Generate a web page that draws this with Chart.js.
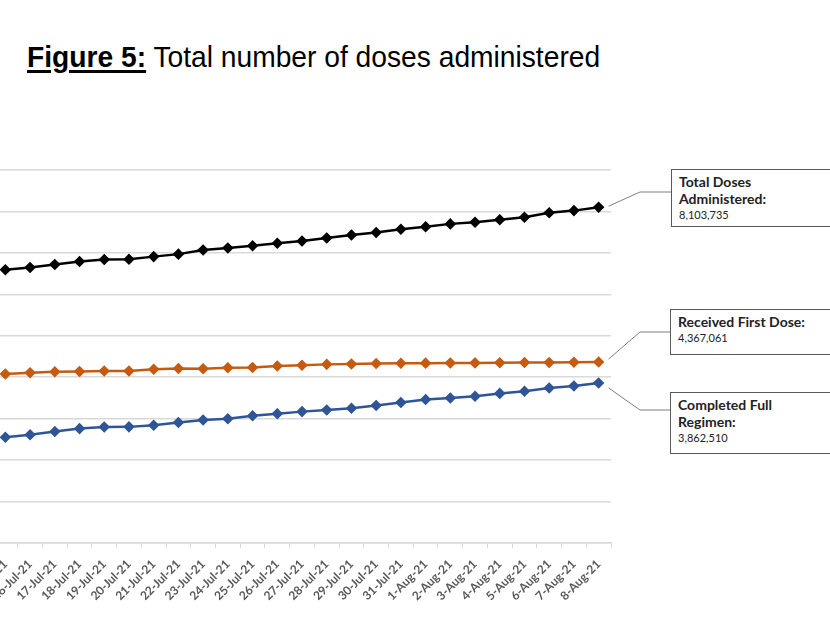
<!DOCTYPE html>
<html lang="en">
<head>
<meta charset="UTF-8">
<title>Figure 5: Total number of doses administered</title>
<script src="https://cdn.jsdelivr.net/npm/chart.js@4"></script>
<style>
  html, body { margin: 0; padding: 0; background: #fff; overflow: hidden; }
  body { width: 830px; height: 622px; position: relative; }
  .title { position: absolute; left: 27px; top: 40px; font-family: 'Liberation Sans', Arial, sans-serif;
           font-size: 30px; color: #000; white-space: nowrap; transform-origin: 0 0; transform: scaleX(0.94); }
  .title b { text-decoration: underline; text-underline-offset: 3px; }
  .wrap { position: absolute; left: -20px; top: 0; width: 850px; height: 622px; }
  .box { position: absolute; border: 1px solid #595959; background: #fff; width: 170px;
         font-family: Lato, 'Open Sans', sans-serif; color: #222; padding: 3px 7px; box-sizing: border-box; }
  .box .lab { font-weight: 700; font-size: 14px; line-height: 17px; }
  .box .num { font-size: 11px; line-height: 15px; }
</style>
</head>
<body>
<div class="title"><b>Figure 5:</b> Total number of doses administered</div>
<div class="wrap"><canvas id="dosesChart"></canvas></div>
<div class="box" style="left:671px;top:169px;height:58px;"><div class="lab">Total Doses<br>Administered:</div><div class="num">8,103,735</div></div>
<div class="box" style="left:670px;top:309px;height:46px;"><div class="lab">Received First Dose:</div><div class="num">4,367,061</div></div>
<div class="box" style="left:670px;top:392px;height:62px;"><div class="lab">Completed Full<br>Regimen:</div><div class="num">3,862,510</div></div>
<script>
// dates shown on the x axis
const dates = ['15-Jul-21','16-Jul-21','17-Jul-21','18-Jul-21','19-Jul-21','20-Jul-21','21-Jul-21',
  '22-Jul-21','23-Jul-21','24-Jul-21','25-Jul-21','26-Jul-21','27-Jul-21','28-Jul-21','29-Jul-21',
  '30-Jul-21','31-Jul-21','1-Aug-21','2-Aug-21','3-Aug-21','4-Aug-21','5-Aug-21','6-Aug-21',
  '7-Aug-21','8-Aug-21'];

// doses (last values from the call-out boxes)
const totalDoses = [6595000,6650000,6720000,6790000,6840000,6845000,6910000,6970000,7070000,7120000,
  7170000,7230000,7285000,7360000,7430000,7490000,7570000,7630000,7700000,7740000,7800000,7860000,
  7970000,8020000,8103735];
const firstDose = [4080000,4110000,4130000,4140000,4150000,4152000,4190000,4210000,4205000,4230000,
  4235000,4270000,4290000,4310000,4320000,4330000,4335000,4340000,4343000,4346000,4350000,4353000,
  4356000,4362000,4367061];
const fullRegimen = [2550000,2610000,2690000,2760000,2800000,2802000,2840000,2910000,2970000,3000000,
  3070000,3120000,3170000,3210000,3250000,3320000,3390000,3460000,3500000,3540000,3610000,3660000,
  3740000,3790000,3862510];

const yMax = 9000000;
const yStep = 1000000;

// leader lines from the last point of each series to its call-out box (page px)
const leaders = [
  { dy: -1, elbow: [640, 192], end: [671, 192] },
  { dy: -3, elbow: [640, 332], end: [670, 332] },
  { dy: 5, elbow: [640, 410], end: [670, 410] }
];
const shiftX = 20; // canvas sits 20px left of the page

const leaderPlugin = {
  id: 'leaders',
  afterDraw(chart) {
    const ctx = chart.ctx;
    ctx.save();
    ctx.strokeStyle = '#7f7f7f';
    ctx.lineWidth = 1;
    leaders.forEach((l, i) => {
      const pts = chart.getDatasetMeta(i).data;
      const p = pts[pts.length - 1];
      ctx.beginPath();
      ctx.moveTo(p.x + 10, p.y + l.dy);
      ctx.lineTo(l.elbow[0] + shiftX, l.elbow[1]);
      ctx.lineTo(l.end[0] + shiftX, l.end[1]);
      ctx.stroke();
    });
    ctx.restore();
  }
};

function series(label, data, color) {
  return {
    label, data,
    borderColor: color, backgroundColor: color,
    borderWidth: 2.5,
    pointStyle: 'rectRot', pointRadius: 4, pointHoverRadius: 4,
    tension: 0
  };
}

new Chart(document.getElementById('dosesChart'), {
  type: 'line',
  data: {
    labels: dates,
    datasets: [
      series('Total Doses Administered', totalDoses, '#000000'),
      series('Received First Dose', firstDose, '#c55a11'),
      series('Completed Full Regimen', fullRegimen, '#2f5597')
    ]
  },
  options: {
    responsive: true,
    maintainAspectRatio: false,
    animation: false,
    layout: { padding: { left: 13, right: 219, top: 170, bottom: 0 } },
    plugins: { legend: { display: false }, tooltip: { enabled: false } },
    scales: {
      x: {
        offset: true,
        grid: { offset: true, drawOnChartArea: false, tickLength: 5, color: '#d9d9d9' },
        border: { color: '#d9d9d9', width: 1.5 },
        ticks: {
          autoSkip: false, maxRotation: 45, minRotation: 45, padding: 9,
          color: '#595959', font: { family: 'Lato', weight: 'bold', size: 12 }
        },
        afterFit(s) { s.height = 79; s.paddingLeft = 0; s.paddingRight = 0; }
      },
      y: {
        min: 0, max: yMax,
        ticks: { stepSize: yStep, display: false },
        grid: { color: '#d9d9d9', lineWidth: 1.5, drawTicks: false },
        border: { display: false },
        afterFit(s) { s.width = 0; }
      }
    }
  },
  plugins: [leaderPlugin]
});
</script>
</body>
</html>
